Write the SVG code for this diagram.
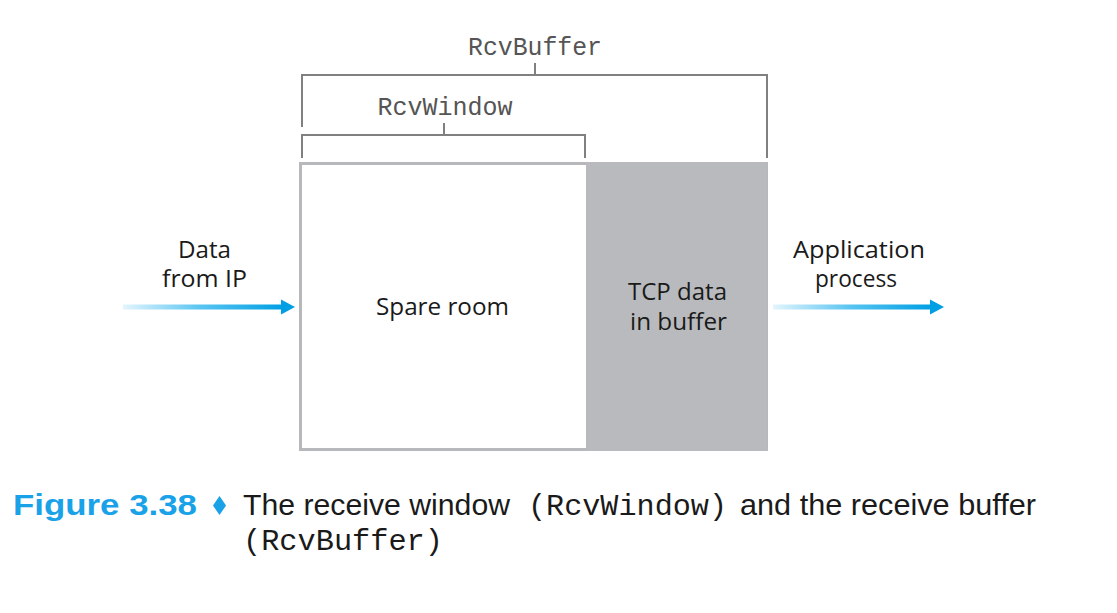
<svg xmlns="http://www.w3.org/2000/svg" width="1117" height="613" viewBox="0 0 1117 613">
  <defs>
    <linearGradient id="flow" x1="0" y1="0" x2="1" y2="0">
      <stop offset="0" stop-color="#e3f5fd"/>
      <stop offset="0.5" stop-color="#55c3f1"/>
      <stop offset="1" stop-color="#009fe3"/>
    </linearGradient>
    <style>
      .sans { font-family: "Open Sans", "Noto Sans", "Liberation Sans", sans-serif; fill: #1a1a1a; font-weight: 500; }
      .lbl { font-size: 23px; text-anchor: middle; }
      .mono { font-family: "Liberation Mono", "DejaVu Sans Mono", monospace; fill: #555; }
      .bracket { fill: none; stroke: #808080; stroke-width: 2; }
      .cap { font-family: "Liberation Sans", "DejaVu Sans", sans-serif; font-size: 30px; fill: #1a1a1a; }
      .capmono { font-family: "Liberation Mono", "DejaVu Sans Mono", monospace; font-size: 30px; fill: #1a1a1a; }
    </style>
  </defs>
  <rect width="1117" height="613" fill="#ffffff"/>

  <g id="rcvbuffer-bracket">
    <path class="bracket" d="M302,127 V75 H767 V158 M535,63 V75"/>
    <text class="mono" x="535" y="55" font-size="25" text-anchor="middle" textLength="134" lengthAdjust="spacingAndGlyphs">RcvBuffer</text>
  </g>

  <g id="rcvwindow-bracket">
    <path class="bracket" d="M302,158 V135 H585 V158 M444,123 V135"/>
    <text class="mono" x="445" y="115" font-size="25" text-anchor="middle" textLength="135" lengthAdjust="spacingAndGlyphs">RcvWindow</text>
  </g>

  <g id="buffer">
    <rect x="300.5" y="163.5" width="466" height="286" fill="#ffffff" stroke="#b7b8bb" stroke-width="3"/>
    <rect x="586" y="162" width="181" height="289" fill="#b9babd"/>
    <text class="sans lbl" x="442.5" y="315" textLength="133" lengthAdjust="spacingAndGlyphs">Spare room</text>
    <text class="sans lbl" x="677.5" y="300" textLength="99" lengthAdjust="spacingAndGlyphs">TCP data</text>
    <text class="sans lbl" x="678.5" y="330" textLength="97" lengthAdjust="spacingAndGlyphs">in buffer</text>
  </g>

  <g id="data-from-ip">
    <text class="sans lbl" x="204.5" y="258" textLength="53" lengthAdjust="spacingAndGlyphs">Data</text>
    <text class="sans lbl" x="204.5" y="287" textLength="85" lengthAdjust="spacingAndGlyphs">from IP</text>
  </g>

  <g id="application-process">
    <text class="sans lbl" x="859" y="258" textLength="132" lengthAdjust="spacingAndGlyphs">Application</text>
    <text class="sans lbl" x="856" y="287" textLength="82" lengthAdjust="spacingAndGlyphs">process</text>
  </g>

  <g id="connectors">
    <rect x="123" y="304.5" width="160" height="5" fill="url(#flow)"/>
    <polygon points="281,299.5 295,307 281,314.5" fill="#009fe3"/>
    <rect x="773" y="304.5" width="159" height="5" fill="url(#flow)"/>
    <polygon points="930,299.5 944,307 930,314.5" fill="#009fe3"/>
  </g>

  <g id="caption">
    <text x="13" y="515" font-family="Liberation Sans, DejaVu Sans, sans-serif" font-weight="bold" font-size="29" fill="#1aa2e8" textLength="184" lengthAdjust="spacingAndGlyphs">Figure 3.38</text>
    <polygon points="219.5,496 226,505.5 219.5,515 213,505.5" fill="#1aa2e8"/>
    <text class="cap" x="243" y="515" textLength="267" lengthAdjust="spacingAndGlyphs">The receive window</text>
    <text class="capmono" x="528" y="515" textLength="199" lengthAdjust="spacingAndGlyphs">(RcvWindow)</text>
    <text class="cap" x="740" y="515" textLength="296" lengthAdjust="spacingAndGlyphs">and the receive buffer</text>
    <text class="capmono" x="243" y="550" textLength="200" lengthAdjust="spacingAndGlyphs">(RcvBuffer)</text>
  </g>
</svg>
